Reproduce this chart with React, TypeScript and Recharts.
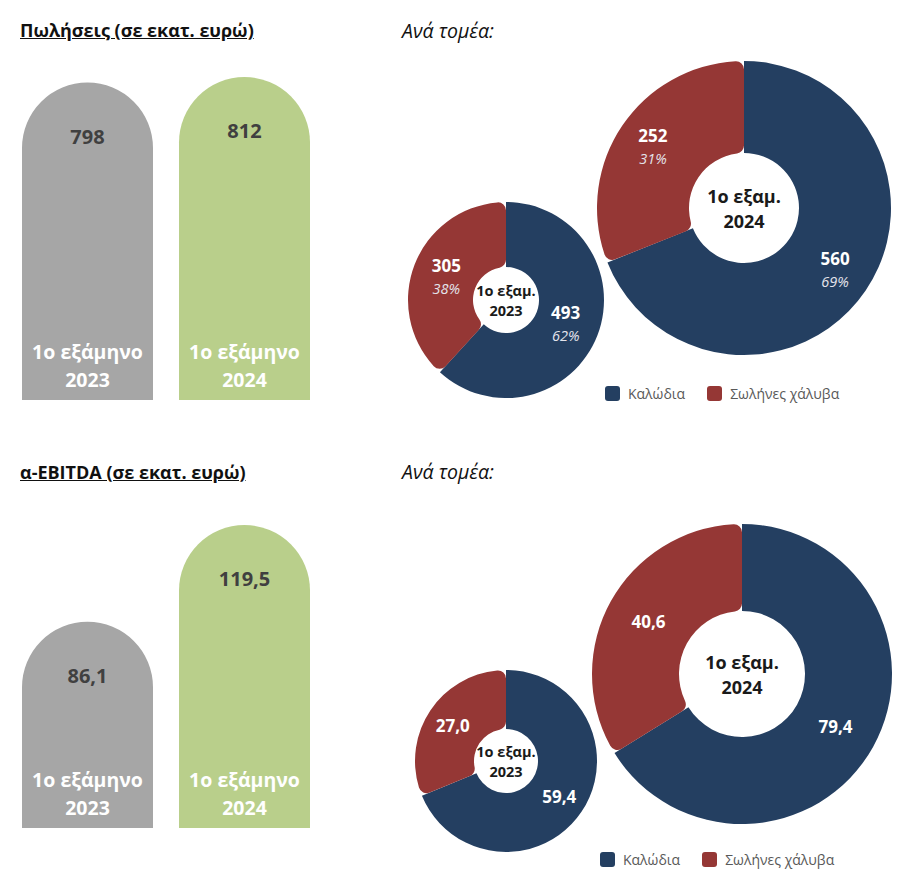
import { Bar, BarChart, Cell, Label, LabelList, Legend, Pie, PieChart, XAxis, YAxis } from "recharts"

const periods = ["1ο εξάμηνο 2023", "1ο εξάμηνο 2024"]
const centerTitles = ["1ο εξαμ. 2023", "1ο εξαμ. 2024"]
const segments = ["Καλώδια", "Σωλήνες χάλυβα"]

const salesTotals = [798, 812]
const sales2023 = [493, 305]
const sales2024 = [560, 252]

const ebitdaTotals = [86.1, 119.5]
const ebitda2023 = [59.4, 27.0]
const ebitda2024 = [79.4, 40.6]

const BAR_COLORS = ["#a6a6a6", "#b9cf8b"]
const SEG_COLORS = ["#243f61", "#953735"]
const FONT = "'Open Sans', 'Noto Sans', sans-serif"
const RADIAN = Math.PI / 180

const fmt = (v: number, dec: number) => v.toFixed(dec).replace(".", ",")

function TotalsBars({ values, top, height, domain, decimals, marginTop, marginBottom }: any) {
  const data = periods.map((p, i) => ({ period: p, value: values[i] }))

  const valueLabel = (p: any) => (
    <text
      x={p.x + p.width / 2}
      y={p.y + 54}
      textAnchor="middle"
      dominantBaseline="central"
      fill="#404040"
      fontSize={20}
      fontWeight={700}
      fontFamily={FONT}
    >
      {fmt(p.value, decimals)}
    </text>
  )

  const periodLabel = (p: any) => {
    const text = String(p.value)
    const cut = text.lastIndexOf(" ")
    const cx = p.x + p.width / 2
    const bottom = p.y + p.height
    return (
      <text textAnchor="middle" fill="#fff" fontSize={19.5} fontWeight={700} fontFamily={FONT}>
        <tspan x={cx} y={bottom - 49} dominantBaseline="central">{text.slice(0, cut)}</tspan>
        <tspan x={cx} y={bottom - 21} dominantBaseline="central">{text.slice(cut + 1)}</tspan>
      </text>
    )
  }

  return (
    <div style={{ position: "absolute", left: 0, top }}>
      <BarChart width={330} height={height} data={data} margin={{ top: marginTop, right: 7, bottom: marginBottom, left: 9 }}>
        <XAxis dataKey="period" hide />
        <YAxis hide domain={domain} allowDataOverflow />
        <Bar dataKey="value" barSize={131} radius={[66, 66, 0, 0]} isAnimationActive={false}>
          {data.map((d, i) => (
            <Cell key={d.period} fill={BAR_COLORS[i]} />
          ))}
          <LabelList dataKey="value" content={valueLabel} />
          <LabelList dataKey="period" content={periodLabel} />
        </Bar>
      </BarChart>
    </div>
  )
}

function SegmentLegend() {
  return (
    <div style={{ display: "flex", alignItems: "center", fontFamily: FONT, fontSize: 14, color: "#595959" }}>
      {segments.map((s, i) => (
        <span key={s} style={{ display: "flex", alignItems: "center", marginRight: 22 }}>
          <span style={{ width: 15, height: 15, borderRadius: 3, background: SEG_COLORS[i], marginRight: 8 }} />
          {s}
        </span>
      ))}
    </div>
  )
}

function SegmentDonuts({ top, height, rings, decimals, showShare, legendTop, legendLeft }: any) {
  return (
    <div style={{ position: "absolute", left: 390, top }}>
      <PieChart width={520} height={height} margin={{ top: 0, right: 0, bottom: 0, left: 0 }}>
        {rings.map((ring: any, ri: number) => {
          const data = segments.map((s, i) => ({ name: s, value: ring.values[i] }))
          const small = ring.outer < 120
          const renderLabel = (p: any) => {
            const x = p.cx + ring.labelR * Math.cos(-p.midAngle * RADIAN)
            const y = p.cy + ring.labelR * Math.sin(-p.midAngle * RADIAN)
            const pct = Math.round(p.percent * 100) + "%"
            return (
              <text textAnchor="middle" fill="#fff" fontFamily={FONT}>
                <tspan x={x} y={showShare ? y - 11 : y} dominantBaseline="central" fontSize={17} fontWeight={700}>
                  {fmt(p.value, decimals)}
                </tspan>
                {showShare && (
                  <tspan x={x} y={y + 12} dominantBaseline="central" fontSize={14.5} fontStyle="italic" fill="#e4e4ec">
                    {pct}
                  </tspan>
                )}
              </text>
            )
          }
          const centerLabel = () => {
            const text = centerTitles[ri]
            const cut = text.lastIndexOf(" ")
            const fs = small ? 14.5 : 18
            return (
              <text textAnchor="middle" fill="#1a1a1a" fontSize={fs} fontWeight={700} fontFamily={FONT}>
                <tspan x={ring.cx} y={ring.cy - fs * 0.65} dominantBaseline="central">{text.slice(0, cut)}</tspan>
                <tspan x={ring.cx} y={ring.cy + fs * 0.7} dominantBaseline="central">{text.slice(cut + 1)}</tspan>
              </text>
            )
          }
          return (
            <Pie
              key={ri}
              data={data}
              dataKey="value"
              nameKey="name"
              cx={ring.cx}
              cy={ring.cy}
              innerRadius={ring.inner}
              outerRadius={ring.outer}
              startAngle={90}
              endAngle={-270}
              stroke="none"
              label={renderLabel}
              labelLine={false}
              isAnimationActive={false}
            >
              {data.map((d, i) => (
                <Cell key={d.name} fill={SEG_COLORS[i]} cornerRadius={i === 1 ? 8 : 0} />
              ))}
              <Label position="center" content={centerLabel} />
            </Pie>
          )
        })}
        <Legend content={<SegmentLegend />} wrapperStyle={{ left: legendLeft, top: legendTop, width: "auto", height: "auto" }} />
      </PieChart>
    </div>
  )
}

const titleStyle: any = {
  position: "absolute",
  left: 20,
  fontFamily: FONT,
  fontSize: 18,
  lineHeight: "22px",
  fontWeight: 700,
  textDecoration: "underline",
  color: "#111",
  whiteSpace: "nowrap",
}

const subTitleStyle: any = {
  position: "absolute",
  left: 402,
  fontFamily: FONT,
  fontSize: 19.5,
  lineHeight: "22px",
  fontStyle: "italic",
  color: "#111",
  whiteSpace: "nowrap",
}

export default function App() {
  return (
    <div style={{ position: "absolute", left: 0, top: 0, width: 910, height: 879, background: "#fff", overflow: "hidden" }}>
      <div style={{ ...titleStyle, top: 19 }}>Πωλήσεις (σε εκατ. ευρώ)</div>
      <div style={{ ...subTitleStyle, top: 20 }}>Ανά τομέα:</div>
      <TotalsBars values={salesTotals} top={0} height={420} domain={[0, 905]} decimals={0} marginTop={40} marginBottom={20} />
      <SegmentDonuts
        top={0}
        height={420}
        decimals={0}
        showShare
        legendLeft={215}
        legendTop={384}
        rings={[
          { values: sales2023, cx: 116, cy: 300, inner: 33, outer: 98, labelR: 64 },
          { values: sales2024, cx: 354, cy: 208, inner: 55, outer: 147, labelR: 110 },
        ]}
      />

      <div style={{ ...titleStyle, top: 461 }}>α-EBITDA (σε εκατ. ευρώ)</div>
      <div style={{ ...subTitleStyle, top: 461 }}>Ανά τομέα:</div>
      <TotalsBars values={ebitdaTotals} top={440} height={410} domain={[15, 135]} decimals={1} marginTop={40} marginBottom={22} />
      <SegmentDonuts
        top={440}
        height={439}
        decimals={1}
        showShare={false}
        legendLeft={210}
        legendTop={410}
        rings={[
          { values: ebitda2023, cx: 116, cy: 321, inner: 32, outer: 91, labelR: 64 },
          { values: ebitda2024, cx: 352, cy: 234, inner: 63, outer: 150, labelR: 107 },
        ]}
      />
    </div>
  )
}
